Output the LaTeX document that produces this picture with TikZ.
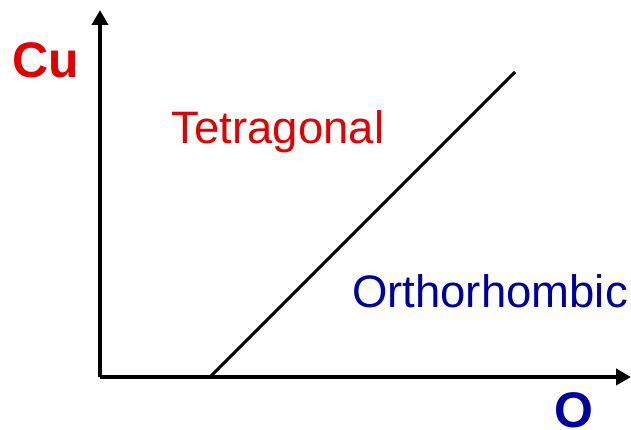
\documentclass[tikz,border=0pt]{standalone}
\usepackage{fontspec}
\setmainfont{Liberation Sans}
\usepackage{tikz}
\usetikzlibrary{arrows.meta}
\definecolor{phred}{RGB}{228,0,0}
\definecolor{phblue}{RGB}{0,0,160}

\begin{document}
\begin{tikzpicture}[x=1pt, y=-1pt]
                \tikzset{axis/.style={line width=4pt, -{Triangle[length=15pt, width=16pt]}},
                         phase/.style={font=\fontsize{45.5}{45.5}\selectfont},
                         elem/.style={font=\fontsize{50}{50}\selectfont\bfseries}}
                \useasboundingbox (0,0) rectangle (631,430);
                \coordinate (orig) at (100,377);
                \coordinate (ytip) at (100,10);
                \coordinate (xtip) at (631,377);
                \coordinate (lo) at (210,377);
                \coordinate (hi) at (515,72);
                \draw[axis] (orig) -- (ytip);
                \draw[axis] (orig) -- (xtip);
                \draw[line width=3pt] (lo) -- (hi);
                \node[elem, text=phred] (cu) at (46,60) {Cu};
                \node[elem, text=phblue] (ox) at (574,410) {O};
                \node[phase, text=phred] (tet) at (278,132) {Tetragonal};
                \node[phase, text=phblue] (orth) at (490,291) {Orthorhombic};
            \end{tikzpicture}
\end{document}
